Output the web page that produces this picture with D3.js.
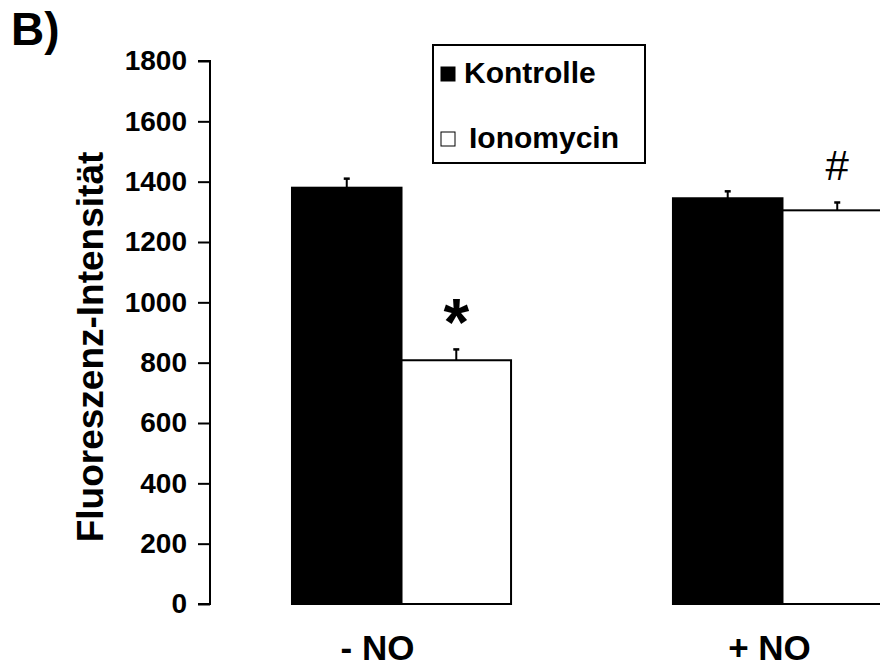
<!DOCTYPE html>
<html>
<head>
<meta charset="utf-8">
<script src="https://cdn.jsdelivr.net/npm/d3@7"></script>
<style>
  body { margin: 0; background: #fff; }
  text { font-family: "Liberation Sans", Arial, sans-serif; font-weight: bold; }
</style>
</head>
<body>
<div id="chart"></div>
<script>
// data
var categories = ["- NO", "+ NO"];
var seriesNames = ["Kontrolle", "Ionomycin"];
var kontrolle = [1380, 1345];
var ionomycin = [808, 1305];
var kontrolleErr = [30, 23];
var ionomycinErr = [36, 26];
var marks = ["*", "#"];
var yTicks = [0, 200, 400, 600, 800, 1000, 1200, 1400, 1600, 1800];

var width = 880, height = 670;

var svg = d3.select('#chart')
  .append('svg')
  .attr('width', width)
  .attr('height', height);

var y = d3.scaleLinear().domain([0, 1800]).range([604, 61]);

var x = d3.scaleBand()
  .domain(categories)
  .range([210, 974])
  .paddingInner(0.425)
  .paddingOuter(0.2152);

var xSub = d3.scaleBand()
  .domain(seriesNames)
  .range([0, x.bandwidth()]);

var fills = { "Kontrolle": "#000", "Ionomycin": "#fff" };

var rows = categories.map(function(c, i){
  return [
    { cat: c, name: "Kontrolle", v: kontrolle[i], e: kontrolleErr[i] },
    { cat: c, name: "Ionomycin", v: ionomycin[i], e: ionomycinErr[i] }
  ];
});

// bars
var groups = svg.selectAll('g.grp')
  .data(rows)
  .enter()
  .append('g')
    .attr('class', 'grp')
    .attr('transform', function(d){ return "translate(" + x(d[0].cat) + ",0)"; });

groups.selectAll('rect')
  .data(function(d){ return d; })
  .enter()
  .append('rect')
    .attr('x', function(d){ return xSub(d.name); })
    .attr('y', function(d){ return y(d.v); })
    .attr('width', xSub.bandwidth())
    .attr('height', function(d){ return y(0) - y(d.v); })
    .attr('fill', function(d){ return fills[d.name]; })
    .attr('stroke', '#000')
    .attr('stroke-width', 2);

// error bars (upper only)
var err = groups.selectAll('g.err')
  .data(function(d){ return d; })
  .enter()
  .append('g')
    .attr('class', 'err');

err.append('line')
  .attr('x1', function(d){ return xSub(d.name) + xSub.bandwidth()/2; })
  .attr('x2', function(d){ return xSub(d.name) + xSub.bandwidth()/2; })
  .attr('y1', function(d){ return y(d.v); })
  .attr('y2', function(d){ return y(d.v + d.e); })
  .attr('stroke', '#000')
  .attr('stroke-width', 2);

err.append('line')
  .attr('x1', function(d){ return xSub(d.name) + xSub.bandwidth()/2 - 3; })
  .attr('x2', function(d){ return xSub(d.name) + xSub.bandwidth()/2 + 3; })
  .attr('y1', function(d){ return y(d.v + d.e); })
  .attr('y2', function(d){ return y(d.v + d.e); })
  .attr('stroke', '#000')
  .attr('stroke-width', 2.5);

// significance marks above Ionomycin bars
groups.append('text')
  .attr('x', function(d){ return xSub("Ionomycin") + xSub.bandwidth()/2; })
  .attr('y', function(d, i){ return i === 0 ? y(d[1].v + d[1].e) - 4 : y(d[1].v + d[1].e) - 22; })
  .attr('text-anchor', 'middle')
  .style('font-size', function(d, i){ return i === 0 ? '66px' : '42px'; })
  .style('font-weight', function(d, i){ return i === 0 ? 'bold' : 'normal'; })
  .text(function(d, i){ return marks[i]; });

// y axis
var yAxis = d3.axisLeft(y).tickValues(yTicks).tickFormat(d3.format('d')).tickSize(12).tickPadding(11);
var ax = svg.append('g')
  .attr('transform', 'translate(210,0)')
  .call(yAxis);
ax.select('.domain').attr('stroke-width', 2).attr('d', 'M-12,' + y(1800) + 'H0V' + y(0) + 'H-12');
ax.selectAll('.tick line').attr('stroke-width', 2);
ax.selectAll('.tick text')
  .style('font-size', '28px')
  .style('font-weight', 'bold')
  .attr('fill', '#000');

// category labels
svg.selectAll('text.cat')
  .data(categories)
  .enter()
  .append('text')
    .attr('class', 'cat')
    .attr('x', function(d, i){ return x(d) + x.bandwidth()/2 - (i === 0 ? 24 : 13); })
    .attr('y', 660)
    .attr('text-anchor', 'middle')
    .style('font-size', '35px')
    .text(function(d){ return d; });

// y axis title
svg.append('text')
  .attr('transform', 'translate(103,347) rotate(-90)')
  .attr('text-anchor', 'middle')
  .style('font-size', '37px')
  .text('Fluoreszenz-Intensität');

// panel label
svg.append('text')
  .attr('x', 11)
  .attr('y', 45)
  .style('font-size', '46px')
  .text('B)');

// legend
var legend = svg.append('g').attr('transform', 'translate(433,45)');
legend.append('rect')
  .attr('width', 212)
  .attr('height', 118)
  .attr('fill', '#fff')
  .attr('stroke', '#000')
  .attr('stroke-width', 2);

var li = legend.selectAll('g.item')
  .data(seriesNames)
  .enter()
  .append('g')
    .attr('class', 'item')
    .attr('transform', function(d, i){ return "translate(0," + (i === 0 ? 38 : 103) + ")"; });

li.append('rect')
  .attr('x', 8)
  .attr('y', -16)
  .attr('width', 14)
  .attr('height', 14)
  .attr('fill', function(d){ return fills[d]; })
  .attr('stroke', '#000')
  .attr('stroke-width', 1);

li.append('text')
  .attr('x', function(d, i){ return i === 0 ? 31 : 36; })
  .attr('y', 0)
  .style('font-size', '30px')
  .text(function(d){ return d; });
</script>
</body>
</html>
